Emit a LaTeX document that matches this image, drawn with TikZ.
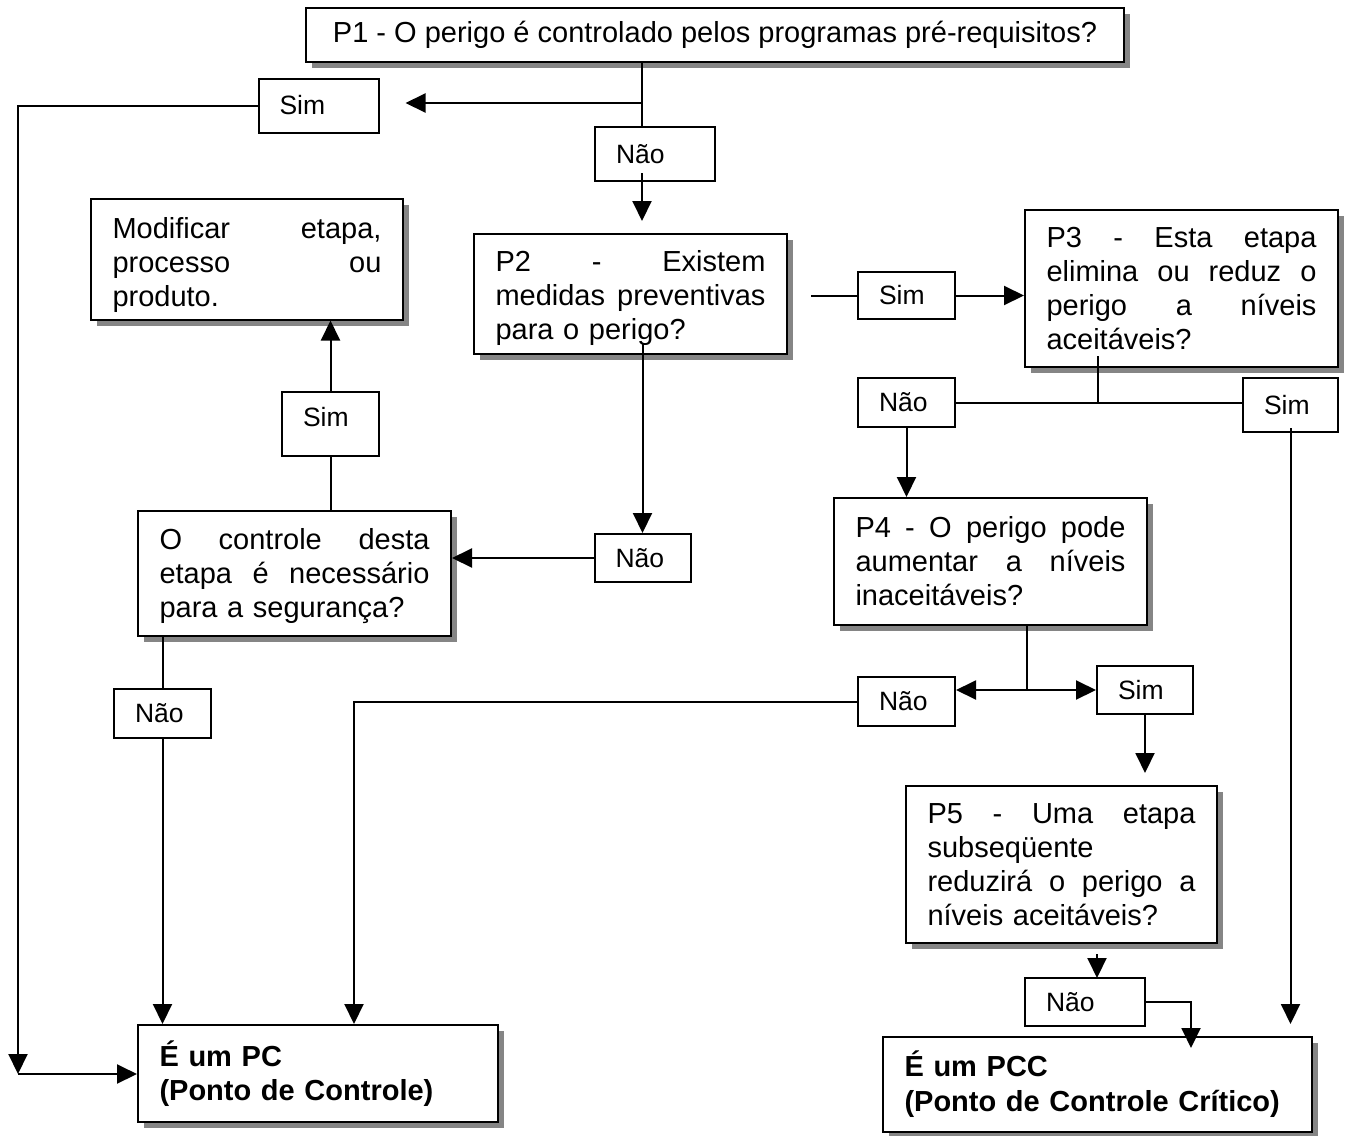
\documentclass[tikz,border=0pt]{standalone}
\usepackage{fontspec}
\setmainfont{Liberation Sans}
\usetikzlibrary{arrows.meta,shadows,calc}
\begin{document}
\begin{tikzpicture}[x=1pt,y=-1pt, line width=2pt,
  tip/.style={-{Triangle[length=20pt,width=19pt]}},
  qbox/.style={draw, line width=2pt, fill=white,
    drop shadow={shadow xshift=6pt, shadow yshift=-6pt, fill=black!48, opacity=1},
    inner xsep=21.5pt, inner ysep=0pt, align=left,
    font=\fontsize{29}{34}\selectfont},
  lbl/.style={draw, line width=2pt, fill=white, inner xsep=21pt, inner ysep=0pt,
    align=left, font=\fontsize{26.5}{30}\selectfont},
]
\useasboundingbox (0,0) rectangle (1346,1135);

% main boxes
\node[qbox, minimum width=818pt, minimum height=54pt, align=center] (p1) at (715,35)
  {P1 - O perigo é controlado pelos programas pré-requisitos?};
\node[qbox, text width=270pt, minimum height=120pt] (p2) at (630.5,294)
  {\rule{0pt}{30pt}P2\hfill-\hfill Existem\\ medidas\hfill preventivas\\ para o perigo?};
\node[qbox, text width=269pt, minimum height=121pt] (modif) at (247,259)
  {\rule{0pt}{33pt}Modificar\hfill etapa,\\ processo\hfill ou\\ produto.};
\node[qbox, text width=270pt, minimum height=125pt] (ctrl) at (294.5,573.5)
  {\rule{0pt}{27pt}O\hfill controle\hfill desta\\ etapa\hfill é\hfill necessário\\ para a segurança?};
\node[qbox, text width=270pt, minimum height=157pt] (p3) at (1181.5,288.5)
  {P3\hfill-\hfill Esta\hfill etapa\\ elimina\hfill ou\hfill reduz\hfill o\\ perigo\hfill a\hfill níveis\\ aceitáveis?};
\node[qbox, text width=270pt, minimum height=127pt] (p4) at (990.5,561.5)
  {P4\hfill-\hfill O\hfill perigo\hfill pode\\ aumentar\hfill a\hfill níveis\\ inaceitáveis?};
\node[qbox, text width=268pt, minimum height=157pt] (p5) at (1061.5,864.5)
  {P5\hfill-\hfill Uma\hfill etapa\\ subseqüente\\ reduzirá\hfill o\hfill perigo\hfill a\\ níveis aceitáveis?};
\node[qbox, text width=317pt, minimum height=97pt, font=\fontsize{29}{34}\selectfont\bfseries] (pc) at (318,1073.5)
  {É um PC\\ (Ponto de Controle)};
\node[qbox, text width=386pt, minimum height=95pt, font=\fontsize{29}{35}\selectfont\bfseries] (pcc) at (1097.5,1084.5)
  {É um PCC\\ (Ponto de Controle Crítico)};

% labels
\node[lbl, text width=78pt, minimum height=54pt] (sim1) at (318.5,105.5) {Sim};
\node[lbl, text width=78pt, minimum height=54pt] (nao1) at (655,154) {Não};
\node[lbl, text width=54pt, minimum height=48pt] (nao2) at (642.5,558) {Não};
\node[lbl, text width=55pt, minimum height=64pt, text depth=14pt] (sim2) at (330.5,423.5) {Sim};
\node[lbl, text width=55pt, minimum height=49pt] (nao3) at (162.5,713.5) {Não};
\node[lbl, text width=55pt, minimum height=47pt] (sim4) at (906.5,295.5) {Sim};
\node[lbl, text width=55pt, minimum height=49pt] (nao4) at (906.5,402.5) {Não};
\node[lbl, text width=53pt, minimum height=54pt] (sim5) at (1290.5,405) {Sim};
\node[lbl, text width=55pt, minimum height=49pt] (nao5) at (906.5,701.5) {Não};
\node[lbl, text width=54pt, minimum height=48pt] (sim6) at (1145,690) {Sim};
\node[lbl, text width=78pt, minimum height=48pt] (nao6) at (1085,1002) {Não};

% junctions
\coordinate (j1) at (642,103);
\coordinate (c1) at (18,1074);
\coordinate (j3) at (1098,402);
\coordinate (j4) at (1027,690);
\coordinate (x6) at (1097,978);

% connectors
\draw (p1.south -| j1) -- (j1) -- (j1 |- nao1.north);
\draw[tip, shorten >=26pt] (j1) -- (j1 -| sim1.east);
\draw[tip] (sim1.west) -| (c1);
\draw[tip] (c1) -- (c1 -| pc.west);
\draw[tip, shorten <=-9pt, shorten >=12pt] (nao1.south -| j1) -- (j1 |- p2.north);
\draw[tip, shorten <=-11pt] (p2.south -| nao2.north) -- (nao2.north);
\draw[tip] (nao2.west) -- (nao2.west -| ctrl.east);
\draw (ctrl.north -| sim2.south) -- (sim2.south);
\draw[tip] (sim2.north) -- (sim2.north |- modif.south);
\draw (ctrl.south -| nao3.north) -- (nao3.north);
\draw[tip] (nao3.south) -- (nao3.south |- pc.north);
\draw[shorten <=23pt] (p2.east |- sim4.west) -- (sim4.west);
\draw[tip] (sim4.east) -- (sim4.east -| p3.west);
\draw[shorten <=-12pt] (p3.south -| j3) -- (j3);
\draw (nao4.east) -- (nao4.east -| sim5.west);
\draw[tip, shorten <=-5pt, shorten >=12pt] (sim5.south) -- (sim5.south |- pcc.north);
\draw[tip] (nao4.south) -- (nao4.south |- p4.north);
\draw (p4.south -| j4) -- (j4);
\draw[tip] (j4) -- (j4 -| nao5.east);
\draw[tip] (j4) -- (sim6.west);
\draw[tip] (nao5.west) -| ($(pc.north west)+(217,0)$);
\draw[tip, shorten >=12pt] (sim6.south) -- (sim6.south |- p5.north);
\draw[tip, shorten <=10pt] (p5.south -| x6) -- (x6);
\draw[tip] (nao6.east) -| ($(pcc.north west)+(309,12)$);
\end{tikzpicture}
\end{document}
